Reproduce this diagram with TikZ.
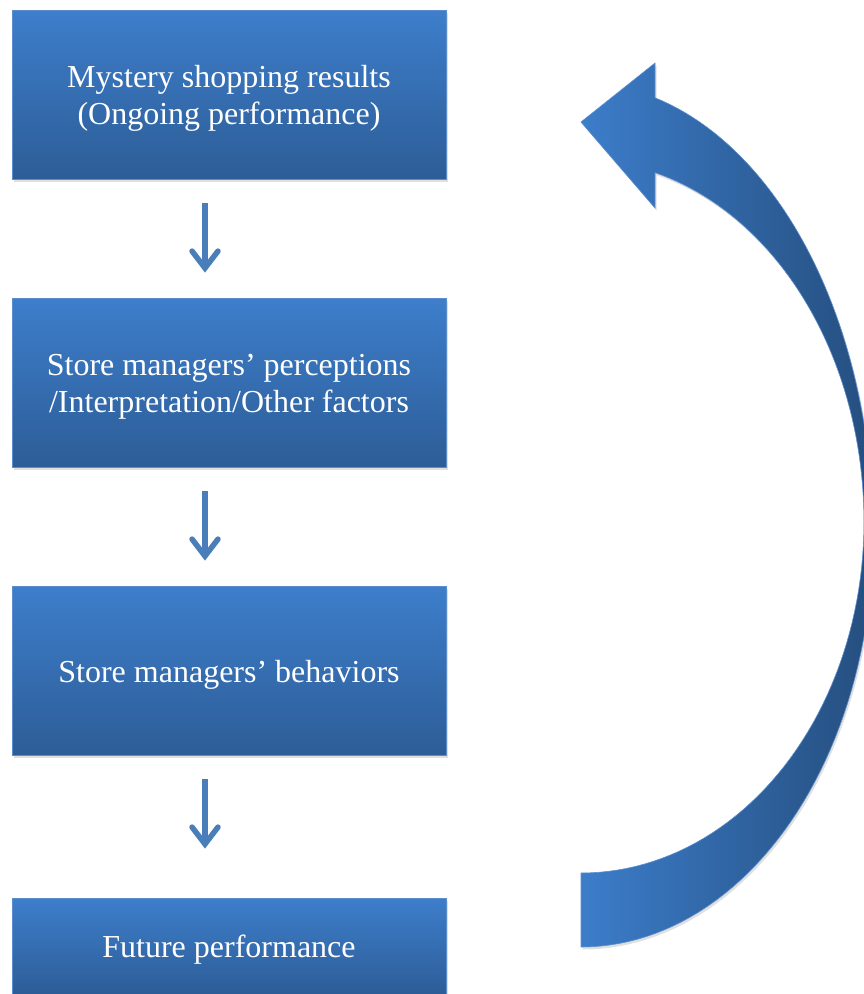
\documentclass[tikz,border=0pt]{standalone}
\usepackage{fontspec}
\setmainfont{Liberation Serif}
\usetikzlibrary{arrows.meta,shadows}

\definecolor{boxtop}{RGB}{61,126,203}
\definecolor{boxbot}{RGB}{45,93,151}
\definecolor{boxedge}{RGB}{92,142,206}
\definecolor{flowblue}{RGB}{74,126,187}
\definecolor{loopleft}{RGB}{60,125,202}
\definecolor{loopright}{RGB}{37,78,126}

\begin{document}
\begin{tikzpicture}[x=1pt,y=-1pt,
  box/.style={rectangle, minimum width=434pt, minimum height=169pt,
    top color=boxtop, bottom color=boxbot, draw=boxedge, line width=0.8pt,
    inner sep=0pt,
    drop shadow={opacity=0.25, shadow xshift=1.5pt, shadow yshift=-2.5pt}},
  boxtext/.style={text=white, font=\fontsize{32}{37}\selectfont, align=center,
    inner sep=0pt},
  flow/.style={draw=flowblue, line width=5.5pt,
    -{Straight Barb[length=17pt,width=26pt,line cap=round]}}]

\useasboundingbox (0,0) rectangle (864,994);

\begin{scope}
\clip (0,0) rectangle (864,994);

% stage boxes
\node[box] (b1) at (229,94.5) {};
\node[box] (b2) at (229,382.5) {};
\node[box] (b3) at (229,670.5) {};
\node[box, minimum height=96pt] (b4) at (229,946) {};

% box captions
\node[boxtext] (t1) at ([yshift=-4pt]b1.center) {Mystery shopping results\\(Ongoing performance)};
\node[boxtext] (t2) at ([yshift=-4pt]b2.center) {Store managers’ perceptions\\/Interpretation/Other factors};
\node[boxtext] (t3) at ([yshift=-4pt]b3.center) {Store managers’ behaviors};
\node[boxtext] (t4) at ([yshift=-4pt]b4.center) {Future performance};

% downward links
\draw[flow, shorten <=24pt, shorten >=25pt] ([xshift=-24pt]b1.south) -- ([xshift=-24pt]b2.north);
\draw[flow, shorten <=24pt, shorten >=25pt] ([xshift=-24pt]b2.south) -- ([xshift=-24pt]b3.north);
\draw[flow, shorten <=24pt, shorten >=49pt] ([xshift=-24pt]b3.south) -- ([xshift=-24pt]b4.north);

% curved feedback arrow: outer and inner edges are pairs of half-ellipses
\path[left color=loopleft, right color=loopright, draw=boxedge, line width=0.6pt,
      drop shadow={opacity=0.25, shadow xshift=1.5pt, shadow yshift=-2.5pt}]
  (581,122) -- (655,63) -- (655,98)
  -- plot[domain=-75.32:0, samples=50, variable=\t]
       ({581+292*cos(\t)}, {535+452*sin(\t)})
  -- plot[domain=0:90, samples=50, variable=\t]
       ({581+292*cos(\t)}, {535+412*sin(\t)})
  -- (581,873)
  -- plot[domain=90:0, samples=50, variable=\t]
       ({581+283*cos(\t)}, {522+351*sin(\t)})
  -- plot[domain=0:-74.84, samples=50, variable=\t]
       ({581+283*cos(\t)}, {522+362*sin(\t)})
  -- (655,208) -- cycle;
\end{scope}
\end{tikzpicture}
\end{document}
